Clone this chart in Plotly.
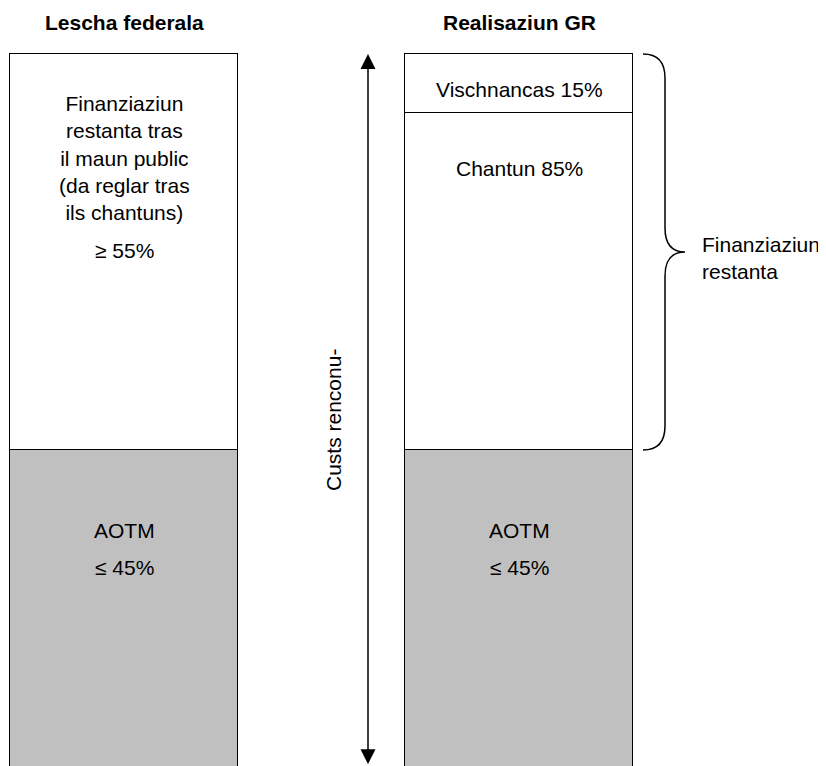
import plotly.graph_objects as go

# ---- data ----
columns = ["Lescha federala", "Realisaziun GR"]
aotm_share = [45, 45]            # % of recognised costs (federal contribution, max)
remaining_share = [55, 55]       # % remaining financing (min)
canton_part = 85                 # % of remaining financing paid by canton (GR)
communes_part = 15               # % of remaining financing paid by communes (GR)

left_text = ["Finanziaziun", "restanta tras", "il maun public", "(da reglar tras", "ils chantuns)"]
left_pct = "≥ 55%"
aotm_label = "AOTM"
aotm_pct = "≤ 45%"
canton_label = f"Chantun {canton_part}%"
communes_label = f"Vischnancas {communes_part}%"
brace_label = "Finanziaziun<br>restanta"
arrow_label = "Custs renconu-"

canton_val = remaining_share[1] * canton_part / 100
communes_val = remaining_share[1] * communes_part / 100

# ---- layout helpers (pixel geometry, page coords; body has 8px margin) ----
OFF = 8
W, H = 826 - OFF, 766 - OFF
px_per_unit_y = 7.2
y_top = 100 + (54 - OFF) / px_per_unit_y
y_bot = y_top - H / px_per_unit_y
x_unit = 395.0
x0_px = 124.0
def xd(px):
    return (px - x0_px) / x_unit
def yd(py):
    return y_top - (py - OFF) / px_per_unit_y

FONT = "Liberation Sans, Arial, sans-serif"
FS = 21
LINE = dict(color="black", width=1.5)
GRAY = "#c0c0c0"
bar_w = 228 / x_unit

fig = go.Figure()
fig.add_trace(go.Bar(x=[0, 1], y=aotm_share, width=bar_w, marker=dict(color=GRAY, line=LINE),
                     hoverinfo="skip", showlegend=False))
fig.add_trace(go.Bar(x=[0, 1], y=[remaining_share[0], canton_val], width=bar_w,
                     marker=dict(color="white", line=LINE), hoverinfo="skip", showlegend=False))
fig.add_trace(go.Bar(x=[1], y=[communes_val], width=bar_w,
                     marker=dict(color="white", line=LINE), hoverinfo="skip", showlegend=False))

ann = []
def txt(x, y, t, **kw):
    d = dict(x=x, y=y, xref="x", yref="y", text=t, showarrow=False,
             font=dict(family=FONT, size=kw.pop("size", FS), color="black"))
    d.update(kw)
    ann.append(d)

# titles
txt(0, yd(22), "<b>" + columns[0] + "</b>")
txt(1, yd(22), "<b>" + columns[1] + "</b>")
# left column
txt(0, yd(157.5), "<br>".join(left_text))
txt(0, yd(250), left_pct)
txt(0, yd(530), aotm_label)
txt(0, yd(567), aotm_pct)
# right column
txt(1, yd(89), communes_label)
txt(1, yd(168), canton_label)
txt(1, yd(530), aotm_label)
txt(1, yd(567), aotm_pct)
# brace label
txt(xd(700), yd(257.5), brace_label, xanchor="left", align="left")
# arrow label
txt(xd(333), yd(420), arrow_label, textangle=-90)

# double arrow
xa = xd(368)
ann.append(dict(x=xa, y=100, ax=xa, ay=y_bot + 0.05, xref="x", yref="y", axref="x", ayref="y",
                text="", showarrow=True, arrowhead=2, startarrowhead=2, arrowside="end+start",
                arrowsize=2, startarrowsize=2, arrowwidth=1.5, arrowcolor="black"))

# curly brace spanning remaining financing on the right column
top = 100
bot = aotm_share[1]
mid = (top + bot) / 2
xl, xv, xt = xd(643), xd(665), xd(685)
r = 24 / px_per_unit_y
path = (f"M {xl},{top} Q {xv},{top} {xv},{top - r} "
        f"L {xv},{mid + r} Q {xv},{mid} {xt},{mid} "
        f"Q {xv},{mid} {xv},{mid - r} "
        f"L {xv},{bot + r} Q {xv},{bot} {xl},{bot}")
fig.add_shape(type="path", path=path, xref="x", yref="y", line=dict(color="black", width=1.5))

fig.update_layout(
    width=W, height=H, margin=dict(l=0, r=0, t=0, b=0),
    barmode="stack", bargap=0,
    paper_bgcolor="white", plot_bgcolor="white",
    xaxis=dict(range=[xd(OFF), xd(826)], visible=False, fixedrange=True),
    yaxis=dict(range=[y_bot, y_top], visible=False, fixedrange=True),
    annotations=ann, showlegend=False,
)
fig.write_html("out.html")
